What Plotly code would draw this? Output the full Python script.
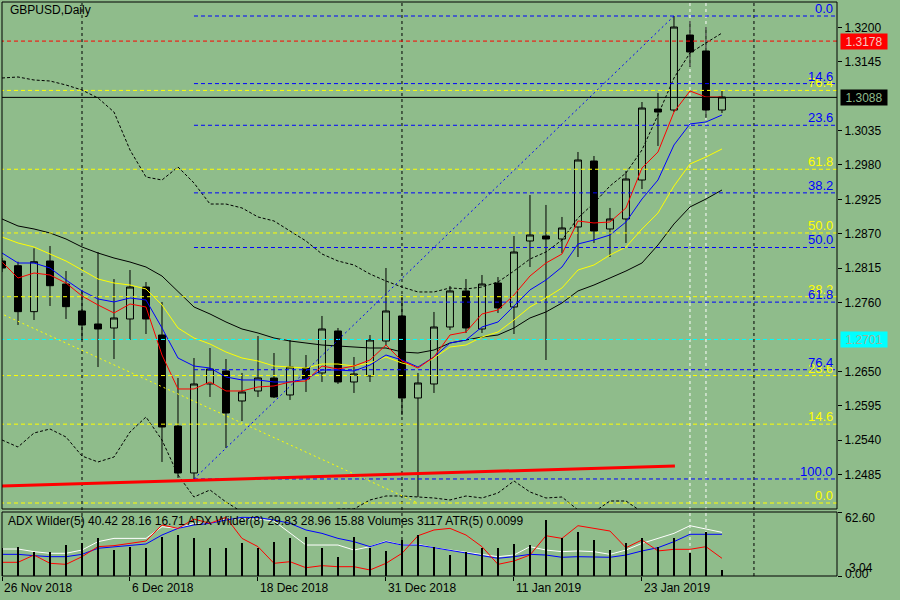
import plotly.graph_objects as go

# ================= DATA =================
BG = "#8FBC8B"

# one bar per trading day, 26 Nov 2018 .. 30 Jan 2019 (index = bar number)
BARS = list(range(46))
OPEN = [1.28264, 1.28189, 1.27454, 1.28264, 1.27896, 1.27465, 1.27257, 1.27193, 1.27337, 1.27848,
        1.27081, 1.25626, 1.24875, 1.26298, 1.26506, 1.26026, 1.26186, 1.26394, 1.26122, 1.26553,
        1.26474, 1.27145, 1.26330, 1.26426, 1.26985, 1.27385, 1.26074, 1.26298, 1.27209, 1.27785,
        1.27177, 1.27912, 1.27529, 1.28584, 1.28664, 1.28616, 1.28808, 1.29863, 1.28776, 1.28936,
        1.29559, 1.30694, 1.30678, 1.31877, 1.31622, 1.30678]
HIGH = [1.28312, 1.28253, 1.28467, 1.28504, 1.28104, 1.27801, 1.28408, 1.27976, 1.28120, 1.27928,
        1.27609, 1.26394, 1.26713, 1.26873, 1.26697, 1.26474, 1.27065, 1.26793, 1.27001, 1.26761,
        1.27385, 1.27193, 1.26729, 1.27081, 1.28152, 1.27721, 1.26474, 1.27449, 1.27864, 1.27976,
        1.28040, 1.28008, 1.28664, 1.29319, 1.29160, 1.28968, 1.30007, 1.29943, 1.29112, 1.29703,
        1.30806, 1.30950, 1.32181, 1.32101, 1.32005, 1.30982]
LOW = [1.28088, 1.27241, 1.27321, 1.27545, 1.27337, 1.27001, 1.26569, 1.26697, 1.27001, 1.27097,
       1.25051, 1.24795, 1.24763, 1.26090, 1.25274, 1.25706, 1.26090, 1.26074, 1.26042, 1.26170,
       1.26330, 1.26298, 1.26154, 1.26330, 1.26921, 1.25802, 1.24491, 1.26154, 1.27161, 1.27113,
       1.27113, 1.27433, 1.27097, 1.28168, 1.26681, 1.28392, 1.28328, 1.28552, 1.28328, 1.28552,
       1.29415, 1.30103, 1.30646, 1.31366, 1.30550, 1.30630]
CLOSE = [1.28152, 1.27454, 1.28253, 1.27869, 1.27534, 1.27241, 1.27177, 1.27353, 1.27848, 1.27337,
         1.25610, 1.24875, 1.26298, 1.26537, 1.25834, 1.26170, 1.26394, 1.26090, 1.26569, 1.26378,
         1.27177, 1.26330, 1.26458, 1.27001, 1.27465, 1.26074, 1.26314, 1.27209, 1.27785, 1.27193,
         1.27896, 1.27513, 1.28408, 1.28680, 1.28616, 1.28792, 1.29879, 1.28744, 1.28936, 1.29575,
         1.30710, 1.30646, 1.32005, 1.31606, 1.30678, 1.30886]

MA_RED = [1.28248, 1.27992, 1.28072, 1.28040, 1.27912, 1.27705, 1.27561, 1.27433, 1.27577, 1.27529,
          1.26761, 1.26218, 1.26218, 1.26330, 1.26186, 1.26186, 1.26250, 1.26266, 1.26330, 1.26346,
          1.26585, 1.26537, 1.26585, 1.26681, 1.26921, 1.26665, 1.26553, 1.26729, 1.27081, 1.27129,
          1.27417, 1.27481, 1.27721, 1.28024, 1.28232, 1.28376, 1.28904, 1.28872, 1.28888, 1.29112,
          1.29751, 1.30007, 1.30646, 1.30982, 1.30886, 1.30886]
MA_BLUE = [1.28392, 1.28232, 1.28232, 1.28152, 1.27960, 1.27785, 1.27657, 1.27609, 1.27673, 1.27641,
           1.27193, 1.26713, 1.26585, 1.26553, 1.26410, 1.26362, 1.26362, 1.26330, 1.26330, 1.26378,
           1.26521, 1.26521, 1.26506, 1.26601, 1.26761, 1.26681, 1.26569, 1.26729, 1.26953, 1.27001,
           1.27209, 1.27289, 1.27545, 1.27801, 1.27960, 1.28168, 1.28536, 1.28600, 1.28680, 1.28888,
           1.29255, 1.29559, 1.30119, 1.30455, 1.30487, 1.30598]
MA_YELLOW = [1.28648, 1.28552, 1.28488, 1.28376, 1.28264, 1.28120, 1.27976, 1.27912, 1.27880, 1.27817,
             1.27561, 1.27193, 1.27033, 1.26937, 1.26809, 1.26713, 1.26665, 1.26585, 1.26569, 1.26553,
             1.26617, 1.26617, 1.26585, 1.26633, 1.26729, 1.26633, 1.26569, 1.26713, 1.26889, 1.26921,
             1.27049, 1.27129, 1.27321, 1.27529, 1.27673, 1.27833, 1.28120, 1.28200, 1.28360, 1.28488,
             1.28776, 1.29032, 1.29463, 1.29815, 1.29927, 1.30055]
MA_BLACK = [1.28936, 1.28824, 1.28776, 1.28712, 1.28616, 1.28488, 1.28392, 1.28312, 1.28248, 1.28168,
            1.28024, 1.27769, 1.27529, 1.27417, 1.27289, 1.27177, 1.27113, 1.27033, 1.26985, 1.26953,
            1.26921, 1.26905, 1.26889, 1.26873, 1.26873, 1.26809, 1.26793, 1.26841, 1.26953, 1.27001,
            1.27049, 1.27081, 1.27193, 1.27353, 1.27449, 1.27593, 1.27785, 1.27880, 1.27992, 1.28104,
            1.28232, 1.28520, 1.28856, 1.29128, 1.29255, 1.29399]
BAND_UP = [1.31190, 1.31206, 1.31158, 1.31142, 1.31078, 1.30998, 1.30870, 1.30646, 1.30039, 1.29607,
           1.29559, 1.29767, 1.29511, 1.29175, 1.29175, 1.29112, 1.28968, 1.28904, 1.28744, 1.28584,
           1.28376, 1.28264, 1.28200, 1.28056, 1.27944, 1.27848, 1.27769, 1.27769, 1.27833, 1.27817,
           1.27848, 1.27928, 1.28104, 1.28296, 1.28408, 1.28600, 1.28952, 1.29191, 1.29463, 1.29671,
           1.30039, 1.30598, 1.31190, 1.31590, 1.31750, 1.31909]
BAND_DN = [1.25402, 1.25290, 1.25514, 1.25578, 1.25450, 1.25146, 1.25051, 1.25130, 1.25530, 1.25770,
           1.25402, 1.24843, 1.24491, 1.24603, 1.24411, 1.24251, 1.24203, 1.24171, 1.24155, 1.24203,
           1.24251, 1.24299, 1.24299, 1.24443, 1.24507, 1.24507, 1.24491, 1.24475, 1.24443, 1.24507,
           1.24475, 1.24555, 1.24747, 1.24571, 1.24475, 1.24491, 1.24283, 1.24251, 1.24427, 1.24427,
           1.24251, 1.24123, 1.23963, 1.23883, 1.23804, 1.23724]

# fibonacci objects: (bar, price) of the 0 and 100 anchors
FIB_LEVELS = [0.0, 14.6, 23.6, 38.2, 50.0, 61.8, 76.4, 100.0]
FIB_BLUE_HIGH = (42, 1.32181)
FIB_BLUE_LOW = (12, 1.24779)
FIB_YELLOW_ZERO = 1.24395
FIB_YELLOW_HUNDRED = 1.33029
YELLOW_TREND = ([-1, 26], [1.27533, 1.24395])
RED_TREND = ([0, 42.06], [1.24667, 1.24987])

LEVEL_RED = 1.3178
LEVEL_PRICE = 1.3088
LEVEL_CYAN = 1.2701
PRICE_TICKS = [1.2485, 1.2540, 1.2595, 1.2650, 1.2760, 1.2815, 1.2870, 1.2925, 1.2980, 1.3035, 1.3145, 1.3200]

MONTH_SEPARATORS = [5, 25, 47]
WHITE_VLINES = [43, 44]
DATE_BARS = [0, 8, 16, 24, 32, 40]
DATE_LABELS = ["26 Nov 2018", "6 Dec 2018", "18 Dec 2018", "31 Dec 2018", "11 Jan 2019", "23 Jan 2019"]

# lower window: ADX lines + tick volumes
ADX_WHITE = [26.4, 26.4, 23.8, 22.2, 22.2, 25.4, 33.6, 36.8, 36.8, 36.8, 48.2, 46.6, 51.5, 51.5, 55.7, 55.7,
             55.7, 53.8, 41.7, 30.3, 30.3, 30.3, 25.4, 28.7, 34.2, 30.3, 31.0, 27.7, 25.4, 23.1, 20.5, 18.9,
             20.5, 28.7, 25.4, 23.8, 24.5, 23.8, 21.2, 25.4, 31.9, 36.8, 41.7, 49.2, 46.0, 42.7]
ADX_BLUE = [21.2, 21.2, 19.9, 18.9, 18.9, 21.2, 27.1, 28.7, 30.3, 31.3, 40.1, 46.6, 49.9, 51.5, 54.8, 57.4,
            57.1, 54.8, 51.5, 45.0, 41.7, 36.8, 33.6, 28.7, 33.6, 30.3, 30.3, 27.7, 25.4, 23.1, 20.5, 17.3,
            18.9, 21.2, 20.5, 18.3, 18.9, 18.9, 18.3, 20.5, 24.5, 27.7, 33.6, 40.8, 40.8, 40.8]
ADX_RED = [13.4, 13.4, 20.5, 12.4, 11.4, 18.9, 28.7, 29.7, 31.9, 34.2, 49.9, 46.6, 55.7, 51.5, 57.4, 36.8,
           28.7, 12.4, 14.0, 8.1, 10.1, 9.1, 9.1, 5.9, 12.4, 22.2, 39.4, 45.0, 46.6, 40.1, 28.7, 11.4,
           14.7, 20.5, 39.4, 36.8, 49.2, 46.6, 44.0, 27.7, 35.2, 24.5, 26.1, 26.1, 28.7, 17.3]
VOLUMES = [14400, 14900, 12600, 12600, 16100, 17000, 19600, 13500, 15200, 14400, 20400, 21300, 19600,
           14700, 14400, 17000, 14400, 17500, 19600, 20400, 14400, 10000, 20400, 14700, 13000, 18700,
           21300, 15200, 10900, 12600, 14700, 14400, 16500, 16100, 29100, 19600, 23000, 18700, 13500,
           17000, 19600, 15200, 19600, 11800, 23000, 3117]
INFO_TEXT = "ADX Wilder(5) 40.42 28.16 16.71 ADX Wilder(8) 29.83 28.96 15.88 Volumes 3117 ATR(5) 0.0099"

FONT = "Liberation Sans, Arial, sans-serif"
W, H = 900, 600
X_END = 52.19  # right edge of the chart in bar units


def px_x(p):
    return p / W


def px_y(p):
    return (H - p) / H


fig = go.Figure()
annotations = []

# ================= MAIN WINDOW =================
fig.add_trace(go.Candlestick(
    x=BARS, open=OPEN, high=HIGH, low=LOW, close=CLOSE,
    increasing=dict(line=dict(color="black", width=1), fillcolor=BG),
    decreasing=dict(line=dict(color="black", width=1), fillcolor="black"),
    whiskerwidth=0, showlegend=False, hoverinfo="skip",
))

for vals, col in [(MA_BLACK, "black"), (MA_YELLOW, "#FFFF00"), (MA_BLUE, "#0000FF"), (MA_RED, "#FF0000")]:
    fig.add_trace(go.Scatter(x=BARS, y=vals, mode="lines", line=dict(color=col, width=1),
                             showlegend=False, hoverinfo="skip"))
for vals in (BAND_UP, BAND_DN):
    fig.add_trace(go.Scatter(x=BARS, y=vals, mode="lines",
                             line=dict(color="black", width=1, dash="3px,2px"),
                             showlegend=False, hoverinfo="skip"))


def hline(y, x0, col, dash="4px,3px", width=1):
    fig.add_trace(go.Scatter(x=[x0, X_END + 1], y=[y, y], mode="lines",
                             line=dict(color=col, width=width, dash=dash),
                             showlegend=False, hoverinfo="skip"))


def fib_label(p, lvl, col):
    annotations.append(dict(x=px_x(835), y=p, xref="paper", yref="y", text=f"{lvl:.1f}",
                            xanchor="right", yanchor="bottom", showarrow=False, yshift=-2,
                            font=dict(family=FONT, size=13, color=col)))


# yellow fibonacci (full width)
y_rng = FIB_YELLOW_HUNDRED - FIB_YELLOW_ZERO
for lvl in FIB_LEVELS:
    p = FIB_YELLOW_ZERO + lvl / 100 * y_rng
    hline(p, -1, "#FFFF00")
    if p < 1.3235:
        fib_label(p, lvl, "#FFFF00")

# blue fibonacci (starts at the swing low)
b_rng = FIB_BLUE_HIGH[1] - FIB_BLUE_LOW[1]
for lvl in FIB_LEVELS:
    p = FIB_BLUE_HIGH[1] - lvl / 100 * b_rng
    hline(p, FIB_BLUE_LOW[0], "#0000FF")
    fib_label(p, lvl, "#0000FF")

hline(LEVEL_RED, -1, "#FF0000")
hline(LEVEL_CYAN, -1, "#00FFFF")
hline(LEVEL_PRICE, -1, "black", dash="solid")

# trend lines
fig.add_trace(go.Scatter(x=[FIB_BLUE_LOW[0], FIB_BLUE_HIGH[0]], y=[FIB_BLUE_LOW[1], FIB_BLUE_HIGH[1]],
                         mode="lines", line=dict(color="#0000FF", width=1, dash="2px,3px"),
                         showlegend=False, hoverinfo="skip"))
fig.add_trace(go.Scatter(x=YELLOW_TREND[0], y=YELLOW_TREND[1], mode="lines",
                         line=dict(color="#FFFF00", width=1, dash="2px,3px"),
                         showlegend=False, hoverinfo="skip"))
fig.add_trace(go.Scatter(x=RED_TREND[0], y=RED_TREND[1], mode="lines",
                         line=dict(color="#FF0000", width=3),
                         showlegend=False, hoverinfo="skip"))

# ================= LOWER WINDOW =================
fig.add_trace(go.Bar(x=BARS, y=VOLUMES, width=0.08, marker=dict(color="black", line=dict(width=0)),
                     xaxis="x2", yaxis="y3", showlegend=False, hoverinfo="skip"))
for vals, col in [(ADX_WHITE, "white"), (ADX_BLUE, "#0000FF"), (ADX_RED, "#FF0000")]:
    fig.add_trace(go.Scatter(x=BARS, y=vals, mode="lines", line=dict(color=col, width=1),
                             xaxis="x2", yaxis="y2", showlegend=False, hoverinfo="skip"))

# ================= LAYOUT =================
x_dom = [px_x(2), px_x(837)]
main_dom = [px_y(509), px_y(2)]
sub_dom = [px_y(576), px_y(512)]

shapes = []
for k in MONTH_SEPARATORS:
    shapes.append(dict(type="line", xref="x", yref="paper", x0=k, x1=k, y0=sub_dom[0], y1=main_dom[1],
                       line=dict(color="black", width=1, dash="3px,3px"), layer="below"))
for k in WHITE_VLINES:
    shapes.append(dict(type="line", xref="x", yref="paper", x0=k, x1=k, y0=sub_dom[0], y1=main_dom[1],
                       line=dict(color="white", width=1, dash="3px,3px"), layer="below"))
for dom in (main_dom, sub_dom):
    shapes.append(dict(type="rect", xref="paper", yref="paper", x0=x_dom[0], x1=x_dom[1],
                       y0=dom[0], y1=dom[1], line=dict(color="black", width=1)))

texts = [
    dict(x=px_x(8), y=px_y(10), text="GBPUSD,Daily"),
    dict(x=px_x(6), y=px_y(521), text=INFO_TEXT),
    dict(x=px_x(843), y=px_y(518), text="62.60"),
    dict(x=px_x(847), y=px_y(568), text="3.04"),
    dict(x=px_x(843), y=px_y(574), text="0.00"),
]
for a in texts:
    a.update(xref="paper", yref="paper", xanchor="left", yanchor="middle", showarrow=False,
             font=dict(family=FONT, size=12, color="black"))
    annotations.append(a)

for k, lab in zip(DATE_BARS, DATE_LABELS):
    annotations.append(dict(x=k, y=px_y(588), xref="x", yref="paper", text=lab, xanchor="left",
                            yanchor="middle", showarrow=False, font=dict(family=FONT, size=12, color="black")))

for price, bg, fg in [(LEVEL_RED, "#FF0000", "#F4C8C0"), (LEVEL_PRICE, "black", BG), (LEVEL_CYAN, "#00FFFF", "#9AB49A")]:
    annotations.append(dict(x=px_x(840), y=price, xref="paper", yref="y", text=f"{price:.4f}",
                            xanchor="left", yanchor="middle", showarrow=False, bgcolor=bg,
                            width=44, height=13, borderpad=1,
                            font=dict(family=FONT, size=12, color=fg)))

fig.update_layout(
    width=W, height=H, margin=dict(l=0, r=0, t=0, b=0),
    paper_bgcolor=BG, plot_bgcolor=BG, showlegend=False, bargap=0,
    xaxis=dict(domain=x_dom, range=[0, X_END], showgrid=False, zeroline=False, showticklabels=False,
               ticks="", rangeslider=dict(visible=False), anchor="y"),
    yaxis=dict(domain=main_dom, range=[1.24299, 1.32405], side="right", anchor="x",
               tickvals=PRICE_TICKS, ticktext=[f"{v:.4f}" for v in PRICE_TICKS],
               ticks="outside", ticklen=4, tickcolor="black", showgrid=False, zeroline=False,
               tickfont=dict(family=FONT, size=12, color="black")),
    xaxis2=dict(domain=x_dom, range=[0, X_END], anchor="y2", showgrid=False, zeroline=False,
                tickvals=DATE_BARS, ticks="outside", ticklen=4, tickcolor="black", showticklabels=False),
    yaxis2=dict(domain=sub_dom, range=[0, 62.6], side="right", anchor="x2", tickvals=[0, 62.6],
                ticks="outside", ticklen=4, tickcolor="black", showticklabels=False,
                showgrid=False, zeroline=False),
    yaxis3=dict(overlaying="y2", range=[0, 33280], visible=False, anchor="x2"),
    shapes=shapes, annotations=annotations,
    boxgap=0.38,
)

# page body has a default 8px margin; drop it so the 900x600 figure fills the window
fig.write_html("out.html", config={"displayModeBar": False},
               post_script="document.body.style.margin='0px';")
